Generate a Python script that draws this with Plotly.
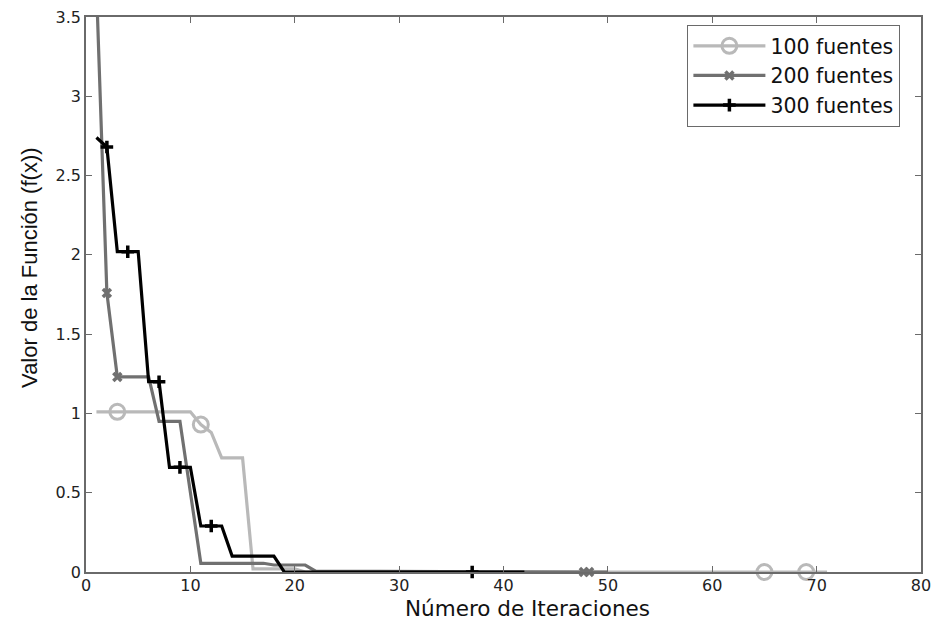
import plotly.graph_objects as go

# Convergence curves: function value per iteration for each source count
x_100 = [1, 3, 10, 11, 12, 13, 15, 16, 20, 21, 65, 69, 71]
y_100 = [1.01, 1.01, 1.01, 0.93, 0.88, 0.72, 0.72, 0.02, 0.02, 0.0, 0.0, 0.0, 0.0]
mx_100 = [3, 11, 65, 69]
my_100 = [1.01, 0.93, 0.0, 0.0]

x_200 = [1, 2, 3, 6, 7, 9, 11, 17, 18, 21, 22, 47.7, 48.2, 50]
y_200 = [3.7, 1.76, 1.23, 1.23, 0.95, 0.95, 0.055, 0.055, 0.044, 0.044, 0.005, 0.0, 0.0, 0.0]
mx_200 = [2, 3, 47.7, 48.2]
my_200 = [1.76, 1.23, 0.0, 0.0]

x_300 = [1, 2, 3, 5, 6, 7, 8, 10, 11, 13, 14, 18, 19, 37, 42]
y_300 = [2.74, 2.68, 2.02, 2.02, 1.2, 1.2, 0.66, 0.66, 0.29, 0.29, 0.10, 0.10, 0.0, 0.0, 0.0]
mx_300 = [2, 4, 7, 9, 12, 37]
my_300 = [2.68, 2.02, 1.2, 0.66, 0.29, 0.0]

labels = ["100 fuentes", "200 fuentes", "300 fuentes"]
x_title = "Número de Iteraciones"
y_title = "Valor de la Función (f(x))"
colors = ["#b9b9b9", "#707070", "#000000"]
symbols = ["circle-open", "x-thin-open", "cross-thin-open"]
msizes = [15, 8, 9]
mwidths = [3, 3.5, 3.5]

series = [
    (x_100, y_100, mx_100, my_100),
    (x_200, y_200, mx_200, my_200),
    (x_300, y_300, mx_300, my_300),
]

H_FONT = "DejaVu Sans, Verdana, sans-serif"
V_FONT = "Liberation Sans, Arial, sans-serif"

fig = go.Figure()
for (xs, ys, mxs, mys), name, c, sym, ms, mw in zip(series, labels, colors, symbols, msizes, mwidths):
    fig.add_trace(go.Scatter(
        x=xs, y=ys, mode="lines", name=name, showlegend=False,
        line=dict(color=c, width=3.2), hoverinfo="skip",
    ))
    fig.add_trace(go.Scatter(
        x=mxs, y=mys, mode="markers", name=name, showlegend=False,
        marker=dict(symbol=sym, size=ms, color=c, line=dict(color=c, width=mw)),
        cliponaxis=False,
    ))
    # legend entry: line with marker sample
    fig.add_trace(go.Scatter(
        x=[None], y=[None], mode="lines+markers", name=name,
        line=dict(color=c, width=3.2),
        marker=dict(symbol=sym, size=ms, color=c, line=dict(color=c, width=mw)),
    ))

axis_common = dict(
    showline=True, linecolor="#6a6a6a", linewidth=1.5, mirror="allticks",
    ticks="inside", ticklen=6, tickcolor="#6a6a6a", tickwidth=1.2,
    showgrid=False, zeroline=False, automargin=False,
    tickfont=dict(family=H_FONT, size=16, color="#222"),
)

fig.update_layout(
    width=938, height=624,
    margin=dict(l=86, r=17, t=17, b=52),
    paper_bgcolor="white", plot_bgcolor="white",
    font=dict(family=H_FONT, color="#111"),
    xaxis=dict(range=[0, 80], tickmode="array", tickvals=list(range(0, 81, 10)),
               ticklabelstandoff=-2, **axis_common),
    yaxis=dict(
        range=[0, 3.5], tickmode="array", tickvals=[0, 0.5, 1, 1.5, 2, 2.5, 3, 3.5],
        ticktext=["0", "0.5", "1", "1.5", "2", "2.5", "3", "3.5"],
        **axis_common,
    ),
    legend=dict(
        x=0.72, y=0.986, xanchor="left", yanchor="top",
        bgcolor="white", bordercolor="#6a6a6a", borderwidth=1.2,
        font=dict(family=H_FONT, size=20.5, color="#111"), itemwidth=72,
    ),
    showlegend=True,
    annotations=[
        dict(text=x_title, xref="paper", yref="paper", x=0.529, y=-0.0919,
             xanchor="center", yanchor="bottom", showarrow=False,
             font=dict(family=H_FONT, size=21.5, color="#111")),
        dict(text=y_title, xref="paper", yref="paper", x=-0.067, y=0.548,
             xanchor="center", yanchor="middle", showarrow=False, textangle=-90,
             font=dict(family=V_FONT, size=22, color="#111")),
    ],
)

fig.write_html("out.html")
